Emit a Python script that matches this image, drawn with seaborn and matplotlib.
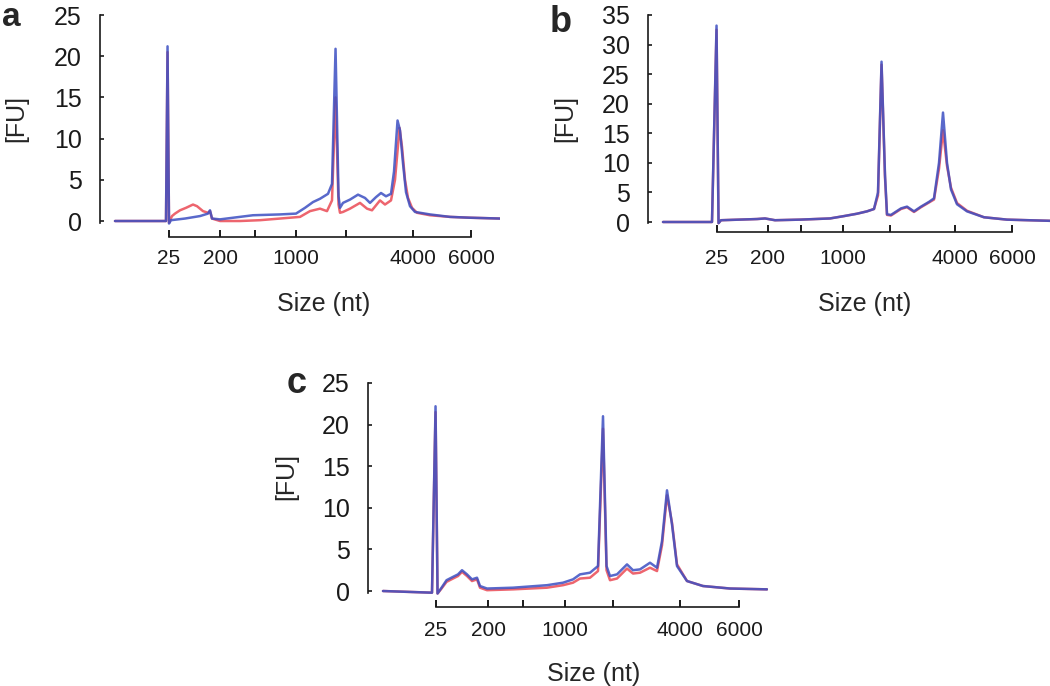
import matplotlib
matplotlib.use("Agg")
import matplotlib.pyplot as plt
import seaborn as sns

# ---------------------------------- DATOS ----------------------------------
# Electroferogramas: tiempo de migracion (s) y fluorescencia [FU]
# Escalera de tamaños (nt) y su tiempo de migracion en cada panel
escalera_nt = [25, 200, 500, 1000, 2000, 4000, 6000]
escalera_etiquetas = ['25', '200', '', '1000', '', '4000', '6000']
escalera_t_a = [24.02, 30.65, 35.20, 40.53, 47.03, 55.74, 63.28]
escalera_t_b = [24.02, 30.65, 34.94, 40.40, 46.51, 54.96, 62.37]
escalera_t_c = [23.89, 30.65, 35.20, 40.66, 46.90, 55.61, 63.28]

# Panel a
a_azul_t = [17.0, 23.63, 23.83, 24.02, 24.28, 26.1, 28.05, 29.09, 29.35, 29.61, 30.65,
            34.94, 38.45, 40.53, 41.7, 42.74, 43.65, 44.69, 45.21, 45.67, 46.06, 46.25,
            46.64, 47.55, 48.59, 49.5, 50.15, 50.93, 51.58, 52.23, 52.88, 53.27, 53.73,
            54.05, 54.44, 54.83, 55.35, 56.0, 57.95, 60.55, 63.15, 67.05]
a_azul_fu = [0, 0, 21.2, -0.3, 0.1, 0.3, 0.6, 0.9, 1.3, 0.3, 0.2,
             0.7, 0.8, 0.9, 1.6, 2.3, 2.7, 3.3, 4.5, 20.9, 3.0, 1.6,
             2.2, 2.6, 3.2, 2.8, 2.2, 2.9, 3.4, 3.0, 3.3, 6.0, 12.2,
             11.0, 7.0, 3.5, 1.8, 1.1, 0.8, 0.5, 0.4, 0.3]
a_rojo_t = [17.0, 23.63, 23.83, 24.02, 24.41, 24.8, 25.45, 26.23, 27.14, 27.66, 28.44,
            29.09, 29.35, 29.61, 30.65, 33.25, 35.85, 38.45, 41.05, 42.35, 43.65, 44.56,
            45.21, 45.67, 46.06, 46.25, 46.64, 47.55, 48.85, 49.76, 50.41, 51.45, 52.1,
            52.88, 53.4, 53.99, 54.31, 54.7, 55.09, 55.61, 56.26, 57.95, 60.55, 63.15, 67.05]
a_rojo_fu = [0, 0, 20.5, -0.2, 0.6, 0.9, 1.3, 1.6, 2.0, 1.8, 1.2,
             1.0, 1.2, 0.3, 0.0, 0.0, 0.1, 0.3, 0.5, 1.2, 1.5, 1.2,
             2.5, 15.0, 2.0, 1.0, 1.1, 1.5, 2.2, 1.5, 1.3, 2.5, 2.0,
             2.5, 5.0, 11.3, 9.0, 5.0, 2.8, 1.6, 1.0, 0.7, 0.5, 0.4, 0.3]

# Panel b
b_t = [17.0, 23.37, 23.96, 24.22, 24.54, 29.22, 30.26, 31.56, 34.81, 38.71, 40.53,
       42.22, 43.52, 44.43, 44.95, 45.41, 45.86, 46.12, 46.64, 47.94, 48.72, 49.63,
       50.54, 51.58, 52.23, 52.88, 53.4, 53.92, 54.44, 55.22, 56.52, 58.73, 61.72, 67.31]
b_azul_fu = [0, 0, 33.2, -0.2, 0.3, 0.5, 0.6, 0.3, 0.4, 0.6, 1.0,
             1.4, 1.8, 2.2, 5.0, 27.1, 8.0, 1.3, 1.2, 2.3, 2.6, 1.8,
             2.6, 3.4, 4.0, 10.0, 18.5, 10.0, 5.5, 3.0, 1.8, 0.8, 0.4, 0.2]
b_rojo_fu = [0, 0, 32.5, -0.2, 0.3, 0.5, 0.6, 0.3, 0.4, 0.6, 1.0,
             1.4, 1.8, 2.2, 4.5, 26.6, 7.5, 1.2, 1.1, 2.2, 2.5, 1.7,
             2.5, 3.3, 3.8, 9.0, 15.5, 9.5, 5.8, 3.2, 1.9, 0.8, 0.4, 0.2]

# Panel c
c_t = [17.0, 23.37, 23.83, 24.09, 24.61, 25.26, 26.1, 26.75, 27.27, 27.92, 28.57,
       29.22, 29.61, 30.52, 33.9, 38.32, 40.4, 41.7, 42.61, 43.91, 44.95, 45.6,
       46.06, 46.51, 47.42, 48.72, 49.5, 50.41, 51.71, 52.62, 53.27, 53.92, 54.57,
       55.22, 56.52, 58.6, 62.11, 66.92]
c_azul_fu = [0, -0.2, 22.2, -0.3, 0.4, 1.3, 1.7, 2.0, 2.5, 2.0, 1.4,
             1.6, 0.6, 0.3, 0.4, 0.7, 1.0, 1.4, 2.0, 2.2, 3.0, 21.0,
             3.0, 1.8, 2.0, 3.2, 2.5, 2.6, 3.4, 2.8, 6.0, 12.1, 8.0,
             3.0, 1.2, 0.6, 0.3, 0.2]
c_rojo_fu = [0, -0.2, 21.5, -0.3, 0.3, 1.1, 1.5, 1.8, 2.3, 1.8, 1.2,
             1.4, 0.4, 0.1, 0.2, 0.4, 0.7, 1.0, 1.5, 1.6, 2.4, 19.5,
             2.5, 1.3, 1.5, 2.7, 2.1, 2.2, 2.8, 2.4, 5.5, 11.5, 8.2,
             3.2, 1.2, 0.6, 0.3, 0.2]

AZUL = '#3c4fc2'
ROJO = '#ea4a55'


# ---------------------------------- FUNCION ----------------------------------
def dibujar_panel(fig, rect, t_azul, fu_azul, t_rojo, fu_rojo, escalera_t, y_max,
                  xlim, ylim, pad_escalera, ylabel_xy, xlabel_xy):
    """Dibuja un electroferograma con su eje de escalera de tamaños (nt)."""
    ax = fig.add_axes(rect)

    # Trazas: roja debajo, azul encima
    sns.lineplot(x=t_rojo, y=fu_rojo, ax=ax, color=ROJO, linewidth=1.8,
                 alpha=0.85, estimator=None, sort=False, zorder=2)
    sns.lineplot(x=t_azul, y=fu_azul, ax=ax, color=AZUL, linewidth=1.8,
                 alpha=0.85, estimator=None, sort=False, zorder=3)

    ax.set_xlim(*xlim)
    ax.set_ylim(*ylim)

    # Eje y: solo la espina izquierda entre 0 y el maximo
    ax.spines['top'].set_visible(False)
    ax.spines['right'].set_visible(False)
    ax.spines['left'].set_bounds(-0.2, y_max)
    ax.spines['left'].set_linewidth(1.2)
    ax.spines['left'].set_color('#1a1a1a')
    ax.set_yticks(range(0, y_max + 1, 5))
    ax.tick_params(axis='y', left=True, direction='in', length=3, width=1.2, pad=13,
                   labelsize=18, colors='#1a1a1a')

    # Eje x: escalera de tamaños
    ax.spines['bottom'].set_bounds(escalera_t[0], escalera_t[-1])
    ax.spines['bottom'].set_linewidth(1.2)
    ax.spines['bottom'].set_color('#1a1a1a')
    ax.set_xticks(escalera_t)
    ax.set_xticklabels(escalera_etiquetas)
    ax.tick_params(axis='x', bottom=True, direction='in', length=5, width=1.4,
                   pad=pad_escalera, labelsize=15, colors='#1a1a1a')

    # Titulos y etiquetas
    ax.set_ylabel('[FU]', fontsize=18)
    ax.yaxis.set_label_coords(*ylabel_xy)
    ax.set_xlabel('Size (nt)', fontsize=18)
    ax.xaxis.set_label_coords(*xlabel_xy)
    ax.patch.set_alpha(0)
    return ax


# ---------------------------------- FIGURA ----------------------------------
sns.set_style("white")
plt.rcParams['font.family'] = ['Liberation Sans', 'DejaVu Sans']

fig = plt.figure(figsize=(10.5, 6.86), dpi=100)

dibujar_panel(fig, [0.09524, 0.65452, 0.38095, 0.32960],
              a_azul_t, a_azul_fu, a_rojo_t, a_rojo_fu, escalera_t_a, 25,
              (15.05, 67.05), (-1.94, 25.5), 9,
              (-0.18, 0.526), (0.56, -0.245))
dibujar_panel(fig, [0.61714, 0.66181, 0.38286, 0.32070],
              b_t, b_azul_fu, b_t, b_rojo_fu, escalera_t_b, 35,
              (15.05, 67.31), (-1.69, 35.5), 12,
              (-0.177, 0.518), (0.54, -0.271))
dibujar_panel(fig, [0.35048, 0.11516, 0.38095, 0.33265],
              c_t, c_azul_fu, c_t, c_rojo_fu, escalera_t_c, 25,
              (15.05, 67.05), (-1.92, 25.5), 10,
              (-0.175, 0.574), (0.565, -0.24))

# Letras de los paneles
fig.text(0.002, 0.962, 'a', fontsize=24, fontweight='bold', va='baseline')
fig.text(0.5238, 0.9534, 'b', fontsize=26, fontweight='bold', va='baseline')
fig.text(0.273, 0.4271, 'c', fontsize=26, fontweight='bold', va='baseline')

fig.savefig('out.png', dpi=100)
